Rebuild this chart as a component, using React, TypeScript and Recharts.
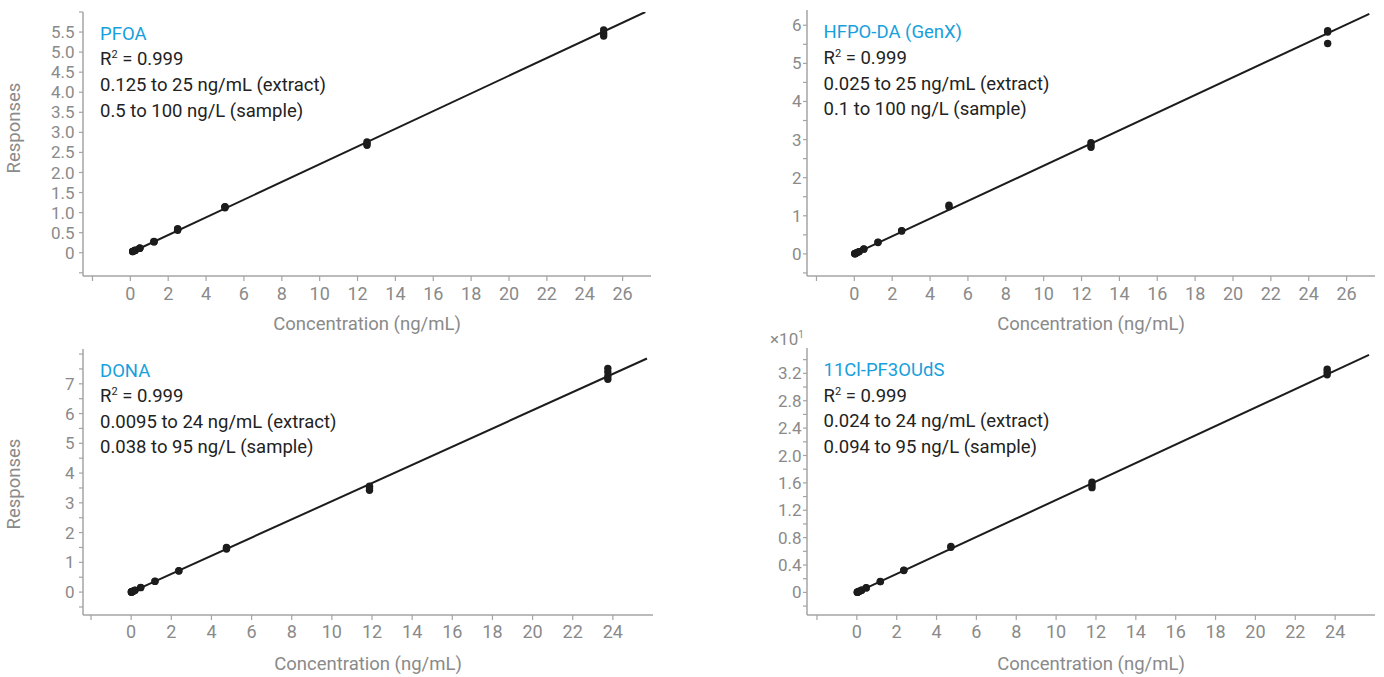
import React from 'react';
import { ScatterChart, Scatter, XAxis, YAxis } from 'recharts';

const FONT = 'Roboto, "Noto Sans", sans-serif';
const AXIS = '#a4a4a4';
const TICK = '#8a8a8a';
const INK = '#1c1c1c';
const BLUE = '#17a0dc';

// ---- PFOA (top-left) ----
const pfoaConc = [0.125, 0.25, 0.5, 1.25, 2.5, 5, 12.5, 25];
const pfoaResp = [
  [0.03, 0.035, 0.03],
  [0.055, 0.06, 0.058],
  [0.11, 0.115, 0.112],
  [0.27, 0.28, 0.278],
  [0.56, 0.58, 0.6],
  [1.12, 1.15, 1.14],
  [2.68, 2.72, 2.76],
  [5.4, 5.47, 5.55],
];
const pfoaFitX = [0, 27.2];
const pfoaFitY = [0, 6.0];
const pfoaText = ['PFOA', '0.125 to 25 ng/mL (extract)', '0.5 to 100 ng/L (sample)'];

// ---- HFPO-DA (top-right) ----
const genxConc = [0.025, 0.05, 0.125, 0.25, 0.5, 1.25, 2.5, 5, 12.5, 25];
const genxResp = [
  [0.005, 0.006],
  [0.012, 0.011],
  [0.03, 0.028],
  [0.06, 0.058],
  [0.13, 0.125],
  [0.31, 0.3],
  [0.6, 0.61],
  [1.24, 1.28],
  [2.8, 2.86, 2.92],
  [5.52, 5.82, 5.86],
];
const genxFitX = [0, 27.2];
const genxFitY = [0, 6.3];
const genxText = ['HFPO-DA (GenX)', '0.025 to 25 ng/mL (extract)', '0.1 to 100 ng/L (sample)'];

// ---- DONA (bottom-left) ----
const donaConc = [0.0095, 0.019, 0.0475, 0.095, 0.19, 0.475, 1.1875, 2.375, 4.75, 11.875, 23.75];
const donaResp = [
  [0.003, 0.003],
  [0.006, 0.006],
  [0.015, 0.014],
  [0.029, 0.03],
  [0.058, 0.06],
  [0.15, 0.16],
  [0.36, 0.37],
  [0.71, 0.72],
  [1.45, 1.48, 1.5],
  [3.42, 3.5, 3.56],
  [7.15, 7.25, 7.4, 7.52],
];
const donaFitX = [0, 25.7];
const donaFitY = [0, 7.85];
const donaText = ['DONA', '0.0095 to 24 ng/mL (extract)', '0.038 to 95 ng/L (sample)'];

// ---- 11Cl-PF3OUdS (bottom-right), responses ×10 ----
const clConc = [0.0236, 0.0472, 0.118, 0.236, 0.472, 1.18, 2.36, 4.72, 11.8, 23.6];
const clResp = [
  [0.003, 0.003],
  [0.006, 0.007],
  [0.016, 0.015],
  [0.032, 0.031],
  [0.066, 0.068],
  [0.16, 0.158],
  [0.32, 0.326],
  [0.66, 0.67],
  [1.53, 1.57, 1.61],
  [3.18, 3.22, 3.26],
];
const clFitX = [0, 25.7];
const clFitY = [0, 3.47];
const clText = ['11Cl-PF3OUdS', '0.024 to 24 ng/mL (extract)', '0.094 to 95 ng/L (sample)'];

const r2Value = '0.999';

// ---- ticks ----
const xTicksTop = [-2, 0, 2, 4, 6, 8, 10, 12, 14, 16, 18, 20, 22, 24, 26];
const xLabelsTop = ['', '0', '2', '4', '6', '8', '10', '12', '14', '16', '18', '20', '22', '24', '26'];
const xTicksBottom = [-2, 0, 2, 4, 6, 8, 10, 12, 14, 16, 18, 20, 22, 24];
const xLabelsBottom = ['', '0', '2', '4', '6', '8', '10', '12', '14', '16', '18', '20', '22', '24'];

const pfoaYTicks = [-0.5, 0, 0.5, 1, 1.5, 2, 2.5, 3, 3.5, 4, 4.5, 5, 5.5, 6];
const pfoaYLabels = ['', '0', '0.5', '1.0', '1.5', '2.0', '2.5', '3.0', '3.5', '4.0', '4.5', '5.0', '5.5', ''];
const genxYTicks = [-0.5, 0, 0.5, 1, 1.5, 2, 2.5, 3, 3.5, 4, 4.5, 5, 5.5, 6];
const genxYLabels = ['', '0', '', '1', '', '2', '', '3', '', '4', '', '5', '', '6'];
const donaYTicks = [-0.5, 0, 0.5, 1, 1.5, 2, 2.5, 3, 3.5, 4, 4.5, 5, 5.5, 6, 6.5, 7, 7.5, 8];
const donaYLabels = ['', '0', '', '1', '', '2', '', '3', '', '4', '', '5', '', '6', '', '7', '', ''];
const clYTicks = [-0.2, 0, 0.2, 0.4, 0.6, 0.8, 1.0, 1.2, 1.4, 1.6, 1.8, 2.0, 2.2, 2.4, 2.6, 2.8, 3.0, 3.2, 3.4];
const clYLabels = ['', '0', '', '0.4', '', '0.8', '', '1.2', '', '1.6', '', '2.0', '', '2.4', '', '2.8', '', '3.2', ''];

const lookup = (ticks: number[], labels: string[]) => (v: number) => {
  const i = ticks.findIndex((t) => Math.abs(t - v) < 1e-6);
  return i >= 0 ? labels[i] : '';
};

const Dot = (props: any) => {
  if (props.cx == null || props.cy == null) return <g />;
  return <circle cx={props.cx} cy={props.cy} r={3.7} fill={INK} />;
};
const NoDot = () => <g />;

const Y_AXIS_W = 60;
const X_AXIS_H = 40;

type PanelProps = {
  left: number;
  top: number;
  width: number;
  height: number;
  plot: { top: number; right: number; bottom: number; left: number };
  xDomain: [number, number];
  yDomain: [number, number];
  xTicks: number[];
  xLabels: string[];
  yTicks: number[];
  yLabels: string[];
  conc: number[];
  resp: number[][];
  fitX: number[];
  fitY: number[];
  yTickMargin: number;
  xTickMargin: number;
};

function Panel(p: PanelProps) {
  const points = p.conc.flatMap((c, i) => p.resp[i].map((r) => ({ x: c, y: r })));
  const fit = p.fitX.map((x, i) => ({ x, y: p.fitY[i] }));
  const margin = {
    top: p.plot.top,
    right: p.plot.right,
    bottom: p.plot.bottom - X_AXIS_H,
    left: p.plot.left - Y_AXIS_W,
  };
  return (
    <div style={{ position: 'absolute', left: p.left, top: p.top, width: p.width, height: p.height }}>
      <ScatterChart width={p.width} height={p.height} margin={margin}>
        <XAxis
          type="number"
          dataKey="x"
          domain={p.xDomain}
          ticks={p.xTicks}
          interval={0}
          allowDataOverflow
          height={X_AXIS_H}
          axisLine={{ stroke: AXIS, strokeWidth: 1.5 }}
          tickLine={{ stroke: AXIS, strokeWidth: 1.2 }}
          tickSize={5}
          tickMargin={p.xTickMargin}
          tick={{ fill: TICK, fontSize: 18, fontFamily: FONT }}
          tickFormatter={lookup(p.xTicks, p.xLabels)}
        />
        <YAxis
          type="number"
          dataKey="y"
          domain={p.yDomain}
          ticks={p.yTicks}
          interval={0}
          allowDataOverflow
          width={Y_AXIS_W}
          axisLine={{ stroke: AXIS, strokeWidth: 1.5 }}
          tickLine={{ stroke: AXIS, strokeWidth: 1.2 }}
          tickSize={4}
          tickMargin={p.yTickMargin}
          tick={{ fill: TICK, fontSize: 17, fontFamily: FONT }}
          tickFormatter={lookup(p.yTicks, p.yLabels)}
        />
        <Scatter
          data={fit}
          line={{ stroke: INK, strokeWidth: 2 }}
          shape={NoDot}
          isAnimationActive={false}
        />
        <Scatter data={points} shape={Dot} isAnimationActive={false} />
      </ScatterChart>
    </div>
  );
}

function Annotation({ x, baselines, lines }: { x: number; baselines: number[]; lines: string[] }) {
  const fs = 18.5;
  return (
    <g fontFamily={FONT} fontSize={fs}>
      <text x={x} y={baselines[0]} fill={BLUE}>
        {lines[0]}
      </text>
      <text x={x} y={baselines[1]} fill="#222">
        R
        <tspan fontSize={11} dy={-7}>
          2
        </tspan>
        <tspan dy={7}>{` = ${r2Value}`}</tspan>
      </text>
      <text x={x} y={baselines[2]} fill="#222">
        {lines[1]}
      </text>
      <text x={x} y={baselines[3]} fill="#222">
        {lines[2]}
      </text>
    </g>
  );
}

export default function App() {
  return (
    <div style={{ position: 'absolute', left: 0, top: 0, width: 1384, height: 677, background: '#fff' }}>
      <Panel
        left={0}
        top={0}
        width={692}
        height={340}
        plot={{ top: 12, right: 41, bottom: 64, left: 83 }}
        xDomain={[-2.5, 27.5]}
        yDomain={[-0.58, 6.0]}
        xTicks={xTicksTop}
        xLabels={xLabelsTop}
        yTicks={pfoaYTicks}
        yLabels={pfoaYLabels}
        conc={pfoaConc}
        resp={pfoaResp}
        fitX={pfoaFitX}
        fitY={pfoaFitY}
        yTickMargin={4.5}
        xTickMargin={6}
      />
      <Panel
        left={692}
        top={0}
        width={692}
        height={340}
        plot={{ top: 10, right: 9, bottom: 64, left: 115 }}
        xDomain={[-2.5, 27.5]}
        yDomain={[-0.58, 6.4]}
        xTicks={xTicksTop}
        xLabels={xLabelsTop}
        yTicks={genxYTicks}
        yLabels={genxYLabels}
        conc={genxConc}
        resp={genxResp}
        fitX={genxFitX}
        fitY={genxFitY}
        yTickMargin={1.5}
        xTickMargin={6}
      />
      <Panel
        left={0}
        top={340}
        width={692}
        height={337}
        plot={{ top: 9, right: 39, bottom: 62, left: 83 }}
        xDomain={[-2.4, 26]}
        yDomain={[-0.77, 8.17]}
        xTicks={xTicksBottom}
        xLabels={xLabelsBottom}
        yTicks={donaYTicks}
        yLabels={donaYLabels}
        conc={donaConc}
        resp={donaResp}
        fitX={donaFitX}
        fitY={donaFitY}
        yTickMargin={4.5}
        xTickMargin={5}
      />
      <Panel
        left={692}
        top={340}
        width={692}
        height={337}
        plot={{ top: 8, right: 9, bottom: 62, left: 115 }}
        xDomain={[-2.5, 26]}
        yDomain={[-0.33, 3.57]}
        xTicks={xTicksBottom}
        xLabels={xLabelsBottom}
        yTicks={clYTicks}
        yLabels={clYLabels}
        conc={clConc}
        resp={clResp}
        fitX={clFitX}
        fitY={clFitY}
        yTickMargin={1.5}
        xTickMargin={5}
      />
      <svg
        width={1384}
        height={677}
        style={{ position: 'absolute', left: 0, top: 0, pointerEvents: 'none' }}
      >
        <Annotation x={100} baselines={[39.5, 65, 90.5, 116.5]} lines={pfoaText} />
        <Annotation x={823.5} baselines={[38, 64, 89.5, 115]} lines={genxText} />
        <Annotation x={100} baselines={[376.5, 402, 427.5, 453]} lines={donaText} />
        <Annotation x={823.5} baselines={[375.5, 401.5, 427, 452.5]} lines={clText} />

        <text transform="translate(20,128) rotate(-90)" textAnchor="middle" fontSize={18.5} fontFamily={FONT} fill={TICK}>
          Responses
        </text>
        <text transform="translate(20,484) rotate(-90)" textAnchor="middle" fontSize={18.5} fontFamily={FONT} fill={TICK}>
          Responses
        </text>

        <text x={367} y={329.5} textAnchor="middle" fontSize={18.5} fontFamily={FONT} fill={TICK}>
          Concentration (ng/mL)
        </text>
        <text x={1091} y={329.5} textAnchor="middle" fontSize={18.5} fontFamily={FONT} fill={TICK}>
          Concentration (ng/mL)
        </text>
        <text x={368} y={669.5} textAnchor="middle" fontSize={18.5} fontFamily={FONT} fill={TICK}>
          Concentration (ng/mL)
        </text>
        <text x={1091} y={669.5} textAnchor="middle" fontSize={18.5} fontFamily={FONT} fill={TICK}>
          Concentration (ng/mL)
        </text>

        <text x={770} y={345} fontSize={17} fontFamily={FONT} fill={TICK}>
          ×10
          <tspan fontSize={10} dy={-7}>
            1
          </tspan>
        </text>
      </svg>
    </div>
  );
}
